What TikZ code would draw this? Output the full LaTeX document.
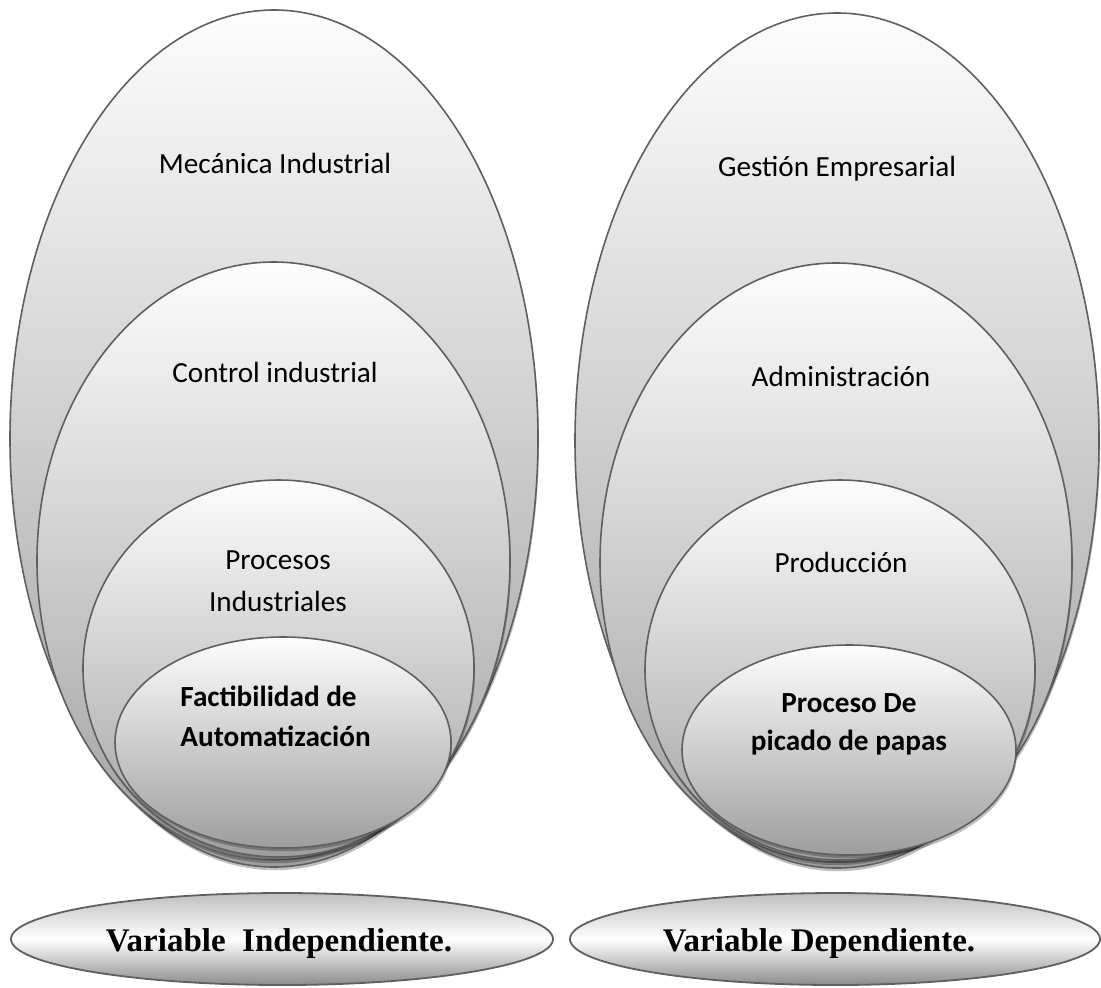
\documentclass[tikz,border=0pt]{standalone}
\usepackage{fontspec}
\setmainfont{Carlito}
\newfontfamily\varfont{Liberation Serif}
\usepackage{tikz}
\usetikzlibrary{shadows}
\definecolor{figline}{RGB}{95,95,95}
\definecolor{figtop}{RGB}{253,253,253}
\definecolor{figbot}{RGB}{158,158,158}
\tikzset{
  ovl/.style ={draw=figline, line width=0.8pt, top color=figtop, bottom color=figbot,
               drop shadow={shadow xshift=0.5pt, shadow yshift=-1.6pt, opacity=0.25, fill=black}},
  ovlb/.style={draw=figline, line width=0.9pt, top color=black!25, bottom color=black!45, middle color=white},
  lab/.style ={font=\fontsize{14.6}{20}\selectfont, inner sep=0pt, anchor=base},
  labb/.style={lab, font=\fontsize{14.6}{20}\selectfont\bfseries},
  vlab/.style={font=\fontsize{16.5}{20}\selectfont\varfont\bfseries, inner sep=0pt, anchor=base},
}

\begin{document}
\begin{tikzpicture}[x=0.5pt,y=-0.5pt]
  \useasboundingbox (0,0) rectangle (1101,987);
  \path[ovl] (274,438.5) ellipse [x radius=264, y radius=428.5];
  \path[ovl] (273.5,561) ellipse [x radius=236.5, y radius=299];
  \path[ovl] (278.5,668.5) ellipse [x radius=195.5, y radius=188.5];
  \path[ovl] (283,742.5) ellipse [x radius=168, y radius=105.5];
  \node[lab] (mec) at (275,173) {Mecánica Industrial};
  \node[lab] (ctrl) at (275,382) {Control industrial};
  \node[lab] (proc) at (278,569) {Procesos};
  \node[lab] (ind) at (278,611) {Industriales};
  \node[labb,anchor=base west] (fact) at (180,706) {Factibilidad de};
  \node[labb,anchor=base west] (auto) at (180,746) {Automatización};
  \path[ovl] (837,440.5) ellipse [x radius=262, y radius=427.5];
  \path[ovl] (836,562.5) ellipse [x radius=236, y radius=299.5];
  \path[ovl] (840,670) ellipse [x radius=195, y radius=190];
  \path[ovl] (849,750) ellipse [x radius=167, y radius=105];
  \node[lab] (gest) at (837,176) {Gestión Empresarial};
  \node[lab] (adm) at (841,386) {Administración};
  \node[lab] (prod) at (841,572) {Producción};
  \node[labb] (pde) at (849,712) {Proceso De};
  \node[labb] (pic) at (849,750) {picado de papas};
  \path[ovlb] (282,939) ellipse [x radius=271, y radius=46];
  \path[ovlb] (835,939) ellipse [x radius=265, y radius=46];
  \node[vlab] (vind) at (279,951) {Variable~~Independiente.};
  \node[vlab] (vdep) at (819,951) {Variable Dependiente.};
\end{tikzpicture}
\end{document}
